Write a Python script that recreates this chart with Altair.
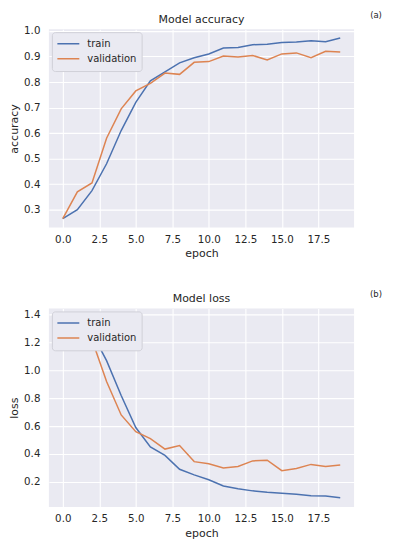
import altair as alt
import pandas as pd

epochs = list(range(20))
acc_train = [0.265, 0.300, 0.375, 0.480, 0.610, 0.720, 0.805, 0.840, 0.875, 0.895,
             0.910, 0.933, 0.935, 0.946, 0.948, 0.955, 0.957, 0.962, 0.958, 0.972]
acc_val = [0.265, 0.370, 0.405, 0.580, 0.695, 0.765, 0.795, 0.835, 0.830, 0.877,
           0.880, 0.902, 0.898, 0.904, 0.886, 0.910, 0.914, 0.895, 0.920, 0.918]
loss_train = [1.38, 1.35, 1.27, 1.07, 0.82, 0.59, 0.45, 0.39, 0.29, 0.25,
              0.215, 0.170, 0.150, 0.135, 0.125, 0.118, 0.110, 0.100, 0.098, 0.085]
loss_val = [1.38, 1.33, 1.22, 0.92, 0.68, 0.56, 0.51, 0.435, 0.46, 0.345,
            0.330, 0.300, 0.310, 0.350, 0.355, 0.280, 0.295, 0.325, 0.310, 0.320]
series_names = ["train", "validation"]
series_colors = ["#4C72B0", "#DD8452"]
x_ticks = [0.0, 2.5, 5.0, 7.5, 10.0, 12.5, 15.0, 17.5]
acc_ticks = [0.3, 0.4, 0.5, 0.6, 0.7, 0.8, 0.9, 1.0]
loss_ticks = [0.2, 0.4, 0.6, 0.8, 1.0, 1.2, 1.4]

FONT = "DejaVu Sans"
TXT = "#262626"
W, H = 306, 199


def make_df(a, b):
    rows = []
    for name, vals in zip(series_names, [a, b]):
        for e, v in zip(epochs, vals):
            rows.append({"epoch": e, "value": v, "series": name})
    return pd.DataFrame(rows)


def panel(df, title, ylabel, tag, ydomain, yticks):
    lines = alt.Chart(df).mark_line(strokeWidth=1.5).encode(
        x=alt.X("epoch:Q",
                scale=alt.Scale(domain=[-0.95, 19.95], nice=False, zero=False),
                axis=alt.Axis(values=x_ticks, format=".1f", title="epoch",
                              labelPadding=7, titlePadding=3)),
        y=alt.Y("value:Q",
                scale=alt.Scale(domain=ydomain, nice=False, zero=False),
                axis=alt.Axis(values=yticks, format=".1f", title=ylabel,
                              labelPadding=9, titlePadding=4)),
        color=alt.Color("series:N",
                        scale=alt.Scale(domain=series_names, range=series_colors),
                        legend=alt.Legend(orient="top-left", title=None, offset=3,
                                          padding=4.5, fillColor="#EAEAF2",
                                          strokeColor="#D0D0D8", cornerRadius=3,
                                          symbolType="stroke", symbolSize=484,
                                          symbolStrokeWidth=1.5, clipHeight=14.3,
                                          rowPadding=0, labelFontSize=10,
                                          labelColor=TXT, labelFont=FONT,
                                          labelOffset=7)),
        order="epoch:Q",
    )
    title_text = alt.Chart(pd.DataFrame({"t": [title]})).mark_text(
        fontSize=11, font=FONT, color=TXT, align="center", baseline="middle"
    ).encode(text="t:N", x=alt.value(W / 2), y=alt.value(-9.5))
    tag_text = alt.Chart(pd.DataFrame({"t": [tag]})).mark_text(
        fontSize=8.5, font=FONT, color=TXT, align="center", baseline="middle"
    ).encode(text="t:N", x=alt.value(328), y=alt.value(-14.5))
    return alt.layer(lines, title_text, tag_text).properties(width=W, height=H)


top = panel(make_df(acc_train, acc_val), "Model accuracy", "accuracy", "(a)",
            [0.23, 1.007], acc_ticks)
bottom = panel(make_df(loss_train, loss_val), "Model loss", "loss", "(b)",
               [0.02, 1.445], loss_ticks)

chart = alt.vconcat(top, bottom, spacing=30).resolve_scale(
    color="independent"
).resolve_legend(color="independent").configure_view(
    fill="#EAEAF2", stroke=None
).configure_axis(
    grid=True, gridColor="white", gridWidth=1.1, domain=False, ticks=False,
    labelFont=FONT, labelFontSize=10.3, labelColor=TXT,
    titleFont=FONT, titleFontSize=11, titleColor=TXT, titleFontWeight="normal",
).properties(padding={"left": 0, "top": 1.5, "right": 5, "bottom": 0})

chart.save("out.html", embed_options={"renderer": "svg", "actions": False})
